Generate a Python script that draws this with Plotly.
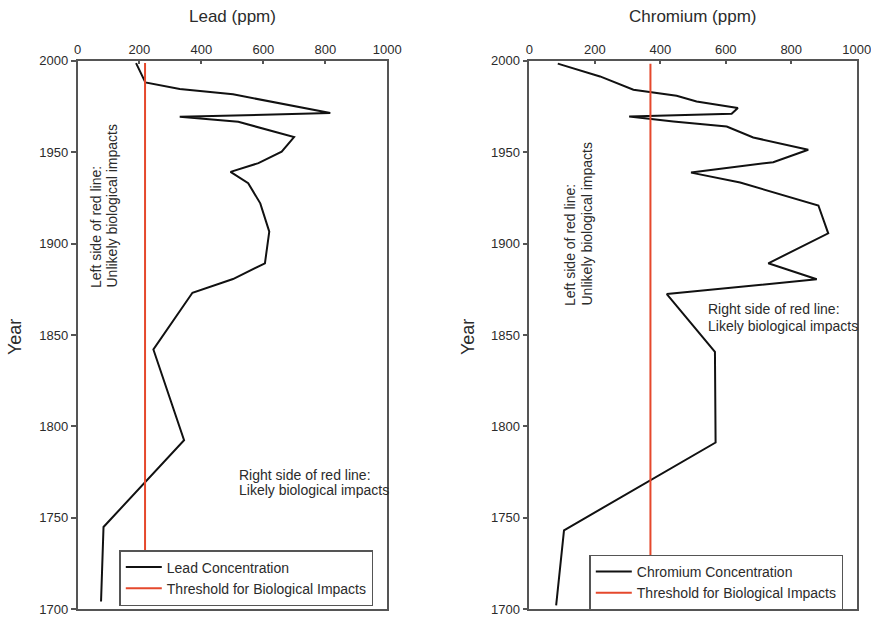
import plotly.graph_objects as go

# Sediment core profiles: concentration (ppm) by year
lead_years = [1998.7, 1990.1, 1988.1, 1984.5, 1981.6, 1971.4, 1969.3, 1966.6,
              1958.2, 1950.3, 1944.0, 1939.2, 1933.0, 1922.0, 1906.5, 1889.2,
              1880.6, 1873.1, 1842.1, 1792.5, 1745.0, 1704.3]
lead_ppm = [189, 214, 219, 330, 502, 816, 330, 519,
            699, 659, 584, 494, 551, 590, 619, 605,
            502, 371, 245, 344, 84, 76]

chromium_years = [1998.4, 1991.4, 1984.1, 1980.8, 1977.7, 1974.1, 1971.0, 1969.5,
                  1966.8, 1964.0, 1958.0, 1951.3, 1944.5, 1938.8, 1933.4, 1920.8,
                  1905.6, 1889.2, 1880.5, 1872.4, 1840.8, 1791.2, 1743.2, 1702.2]
chromium_ppm = [87, 216, 318, 450, 511, 637, 618, 305,
                440, 603, 684, 852, 745, 494, 644, 883,
                913, 730, 878, 420, 567, 569, 106, 82]

# Effects thresholds (ppm)
lead_threshold = 218
chromium_threshold = 370

x_ticks = [0, 200, 400, 600, 800, 1000]
y_ticks = [1700, 1750, 1800, 1850, 1900, 1950, 2000]

W, H = 871, 619
FONT = "Liberation Sans, Arial, sans-serif"
TXT = "#2b2b2b"
AXIS = "#555555"
RED = "#e5482c"


def px(x):
    return x / W


def py(y):
    return 1 - y / H


fig = go.Figure()

fig.add_trace(go.Scatter(
    x=lead_ppm, y=lead_years, mode="lines", name="Lead Concentration",
    line=dict(color="#111111", width=2), xaxis="x", yaxis="y", legend="legend"))
fig.add_trace(go.Scatter(
    x=[lead_threshold, lead_threshold], y=[lead_years[0], lead_years[-1]],
    mode="lines", name="Threshold for Biological Impacts",
    line=dict(color=RED, width=2), xaxis="x", yaxis="y", legend="legend"))

fig.add_trace(go.Scatter(
    x=chromium_ppm, y=chromium_years, mode="lines", name="Chromium Concentration",
    line=dict(color="#111111", width=2), xaxis="x2", yaxis="y2", legend="legend2"))
fig.add_trace(go.Scatter(
    x=[chromium_threshold, chromium_threshold],
    y=[chromium_years[0], chromium_years[-1]],
    mode="lines", name="Threshold for Biological Impacts",
    line=dict(color=RED, width=2), xaxis="x2", yaxis="y2", legend="legend2"))

y_dom = [py(609.3), py(60.7)]

xaxis_common = dict(
    range=[0, 1000], tickvals=x_ticks, side="top", ticks="inside", ticklen=4,
    tickwidth=1.5, tickcolor=AXIS, showline=True, linecolor=AXIS, linewidth=1.5,
    mirror=True, showgrid=False, zeroline=False, automargin=False,
    ticklabeloverflow="allow",
    tickfont=dict(family=FONT, size=13, color=TXT))
yaxis_common = dict(
    range=[1700, 2000], tickvals=y_ticks, ticks="outside", ticklen=5,
    tickwidth=1.5, tickcolor=AXIS, showline=True, linecolor=AXIS, linewidth=1.5,
    mirror=True, showgrid=False, zeroline=False, automargin=False,
    ticklabeloverflow="allow",
    tickfont=dict(family=FONT, size=13, color=TXT))

legend_common = dict(
    xanchor="left", yanchor="top", bgcolor="white", bordercolor=AXIS,
    borderwidth=1.5, font=dict(family=FONT, size=14, color=TXT),
    tracegroupgap=0, itemwidth=36)

fig.update_layout(
    width=W, height=H,
    margin=dict(l=0, r=0, t=0, b=0),
    paper_bgcolor="white", plot_bgcolor="white",
    font=dict(family=FONT, color=TXT),
    xaxis=dict(domain=[px(77.5), px(387.3)], anchor="y", **xaxis_common),
    yaxis=dict(domain=y_dom, anchor="x", **yaxis_common),
    xaxis2=dict(domain=[px(529.3), px(856.7)], anchor="y2", **xaxis_common),
    yaxis2=dict(domain=y_dom, anchor="x2", **yaxis_common),
    legend=dict(x=px(119.3), y=py(550), **legend_common),
    legend2=dict(x=px(589.3), y=py(554.5), **legend_common),
    showlegend=True,
)


def note(text, x, y, size=14, angle=0, xanchor="left", yanchor="middle"):
    fig.add_annotation(
        text=text, x=px(x), y=py(y), xref="paper", yref="paper",
        showarrow=False, textangle=angle, xanchor=xanchor, yanchor=yanchor,
        font=dict(family=FONT, size=size, color=TXT))


# Axis titles
note("Lead (ppm)", 232.5, 17, size=17, xanchor="center")
note("Chromium (ppm)", 693, 17, size=17, xanchor="center")
note("Year", 15, 337, size=18, angle=-90, xanchor="center")
note("Year", 468, 337, size=18, angle=-90, xanchor="center")

# Region labels, lead panel
note("Left side of red line:", 96, 290, angle=-90, xanchor="center", yanchor="bottom")
note("Unlikely biological impacts", 111, 290, angle=-90, xanchor="center", yanchor="bottom")
note("Right side of red line:", 236.7, 475)
note("Likely biological impacts", 236.7, 490)

# Region labels, chromium panel
note("Left side of red line:", 570, 308, angle=-90, xanchor="center", yanchor="bottom")
note("Unlikely biological impacts", 586, 308, angle=-90, xanchor="center", yanchor="bottom")
note("Right side of red line:", 706, 309.3)
note("Likely biological impacts", 706, 325.7)

fig.write_html("out.html")
